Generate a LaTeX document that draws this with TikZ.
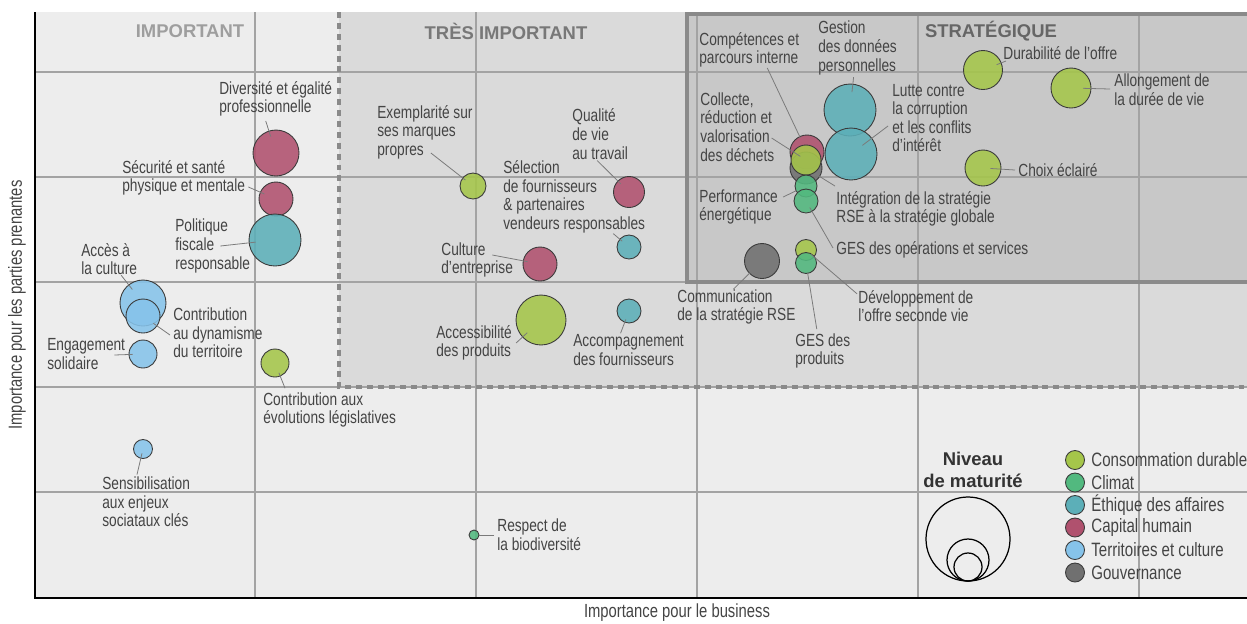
\documentclass[tikz,border=0pt]{standalone}
\usepackage{fontspec}
\setmainfont{Liberation Sans}
\newfontfamily\condfont{Liberation Sans}[FakeStretch=0.78]
\definecolor{conso}{HTML}{A5C64A}
\definecolor{climat}{HTML}{52B97F}
\definecolor{ethique}{HTML}{5CAFB8}
\definecolor{capital}{HTML}{B0516E}
\definecolor{territ}{HTML}{86C3EA}
\definecolor{gouv}{HTML}{707070}
\definecolor{bglight}{HTML}{EDEDED}
\definecolor{bgmid}{HTML}{DADADA}
\definecolor{bgdark}{HTML}{C8C8C8}
\definecolor{gridc}{HTML}{A3A3A3}
\definecolor{framec}{HTML}{8A8A8A}
\definecolor{txtgray}{HTML}{444444}
\definecolor{leadgray}{HTML}{7A7A7A}
\definecolor{bubline}{HTML}{3A3A3A}

\begin{document}
\begin{tikzpicture}[x=0.02cm,y=-0.02cm,
    bub/.style={circle,draw=bubline,line width=0.5pt,fill opacity=0.88,inner sep=0,minimum size=#1*0.04cm},
    lbl/.style={font=\condfont\fontsize{10}{10.6}\selectfont,text=txtgray,align=left,inner sep=0,anchor=west},
    legl/.style={font=\condfont\fontsize{11}{13}\selectfont,text=txtgray,inner sep=0,anchor=west},
    head/.style={font=\fontsize{10.5}{12.5}\selectfont\bfseries,inner sep=0},
    lead/.style={draw=leadgray,line width=0.45pt,shorten >=#1*0.015cm},
    gridl/.style={draw=gridc,line width=0.6pt}]
    \useasboundingbox (0,0) rectangle (1247,623);

    \fill[bglight] (35,12) rectangle (1247,598);
    \fill[bgmid] (339,12) rectangle (1247,387);
    \fill[bgdark] (687,12) rectangle (1247,282);
    \foreach \x in {255,476,697,918,1139}
        \draw[gridl] (\x,12) -- (\x,598);
    \foreach \y in {72,177,282,387,492}
        \draw[gridl] (35,\y) -- (1247,\y);
    \draw[framec,line width=1.8pt,dash pattern=on 3.4pt off 2.8pt] (339,12) -- (339,387) -- (1247,387);
    \draw[framec,line width=2.5pt] (1250,14) -- (687,14) -- (687,282) -- (1250,282);
    \draw[black,line width=1.2pt] (35,12) -- (35,598) -- (1247,598);

    \node[head,text=black!38] (imp) at (190,31) {IMPORTANT};
    \node[head,text=black!53] (tres) at (506,31) {TRÈS IMPORTANT};
    \node[head,text=black!60] (strat) at (991,31) {STRATÉGIQUE};

    \node[bub=23,fill=capital] (divers) at (276,153) {};
    \node[bub=17,fill=capital] (secu) at (276,199) {};
    \node[bub=26,fill=ethique] (fisc) at (275,240) {};
    \node[bub=23,fill=territ] (acces) at (143,303) {};
    \node[bub=17,fill=territ] (dynam) at (143,316) {};
    \node[bub=14,fill=territ] (engag) at (143,354) {};
    \node[bub=14,fill=conso] (legis) at (275,363) {};
    \node[bub=9.5,fill=territ] (sensib) at (143,449) {};
    \node[bub=13,fill=conso] (exempl) at (473,186) {};
    \node[bub=15.5,fill=capital] (qualite) at (629,192) {};
    \node[bub=12,fill=ethique] (select) at (629,247) {};
    \node[bub=17,fill=capital] (cultent) at (540,264) {};
    \node[bub=25,fill=conso] (access) at (541,320) {};
    \node[bub=12,fill=ethique] (accomp) at (629,311) {};
    \node[bub=5,fill=climat] (biodiv) at (474,535) {};
    \node[bub=17,fill=capital] (compet) at (807,152) {};
    \node[bub=16,fill=gouv] (integ) at (806,168) {};
    \node[bub=15,fill=conso] (collecte) at (806,160) {};
    \node[bub=11,fill=climat] (perf) at (806,186) {};
    \node[bub=12,fill=climat] (gesop) at (806,201) {};
    \node[bub=26,fill=ethique] (gestion) at (850,110) {};
    \node[bub=26,fill=ethique] (lutte) at (851,154) {};
    \node[bub=19.5,fill=conso] (durab) at (983,70) {};
    \node[bub=20,fill=conso] (allong) at (1071,88) {};
    \node[bub=18,fill=conso] (choix) at (983,168) {};
    \node[bub=17.5,fill=gouv] (commun) at (762,261) {};
    \node[bub=10.5,fill=conso] (devel) at (806,250) {};
    \node[bub=10.5,fill=climat] (gesprod) at (806,263) {};

    \node[lbl] (divers-l) at (219,99) {Diversité et égalité\\professionnelle};
    \node[lbl] (secu-l) at (122,178) {Sécurité et santé\\physique et mentale};
    \node[lbl] (fisc-l) at (175,246) {Politique\\fiscale\\responsable};
    \node[lbl] (acces-l) at (81,259) {Accès à\\la culture};
    \node[lbl] (dynam-l) at (173,333) {Contribution\\au dynamisme\\du territoire};
    \node[lbl] (engag-l) at (47,354) {Engagement\\solidaire};
    \node[lbl] (legis-l) at (263,410) {Contribution aux\\évolutions législatives};
    \node[lbl] (sensib-l) at (102,502) {Sensibilisation\\aux enjeux\\sociataux clés};
    \node[lbl] (exempl-l) at (377,132) {Exemplarité sur\\ses marques\\propres};
    \node[lbl] (qualite-l) at (572,134) {Qualité\\de vie\\au travail};
    \node[lbl] (select-l) at (503,197) {Sélection\\de fournisseurs\\\& partenaires\\vendeurs responsables};
    \node[lbl] (cultent-l) at (441,260) {Culture\\d’entreprise};
    \node[lbl] (access-l) at (436,343) {Accessibilité\\des produits};
    \node[lbl] (accomp-l) at (573,350) {Accompagnement\\des fournisseurs};
    \node[lbl] (biodiv-l) at (497,535) {Respect de\\la biodiversité};
    \node[lbl] (commun-l) at (677,307) {Communication\\de la stratégie RSE};
    \node[lbl] (gesprod-l) at (795,351) {GES des\\produits};
    \node[lbl] (devel-l) at (858,306) {Développement de\\l’offre seconde vie};
    \node[lbl] (gesop-l) at (836,250) {GES des opérations et services};
    \node[lbl] (integ-l) at (836,209) {Intégration de la stratégie\\RSE à la stratégie globale};
    \node[lbl] (perf-l) at (699,207) {Performance\\énergétique};
    \node[lbl] (collecte-l) at (700,127) {Collecte,\\réduction et\\valorisation\\des déchets};
    \node[lbl] (compet-l) at (699,50) {Compétences et\\parcours interne};
    \node[lbl] (gestion-l) at (818,48) {Gestion\\des données\\personnelles};
    \node[lbl] (lutte-l) at (892,118) {Lutte contre\\la corruption\\et les conflits\\d’intérêt};
    \node[lbl] (durab-l) at (1003,53) {Durabilité de l’offre};
    \node[lbl] (allong-l) at (1114,90) {Allongement de\\la durée de vie};
    \node[lbl] (choix-l) at (1018,170) {Choix éclairé};

    \draw[lead=23] ([shift={(-10,4)}]divers-l.south) -- (divers.center);
    \draw[lead=17] ([shift={(3,9)}]secu-l.east) -- (secu.center);
    \draw[lead=26] ([shift={(-30,0)}]fisc-l.east) -- (fisc.center);
    \draw[lead=23] ([shift={(12,0)}]acces-l.south) -- (acces.center);
    \draw[lead=17] ([shift={(-3,2)}]dynam-l.west) -- (dynam.center);
    \draw[lead=14] ([shift={(-11,1)}]engag-l.east) -- (engag.center);
    \draw[lead=14] ([shift={(22,-4)}]legis-l.north west) -- (legis.center);
    \draw[lead=6] ([shift={(35,-2)}]sensib-l.north west) -- (sensib.center);
    \draw[lead=13] ([shift={(-42,21)}]exempl-l.east) -- (exempl.center);
    \draw[lead=15.5] ([shift={(-3,1)}]qualite-l.south) -- (qualite.center);
    \draw[lead=12] ([shift={(39,0)}]select-l.south) -- (select.center);
    \draw[lead=17] ([shift={(-21,-5)}]cultent-l.east) -- (cultent.center);
    \draw[lead=25] ([shift={(4,0)}]access-l.east) -- (access.center);
    \draw[lead=12] ([shift={(-8,-1)}]accomp-l.north) -- (accomp.center);
    \draw[lead=7] ([shift={(-3,0)}]biodiv-l.west) -- (biodiv.center);
    \draw[lead=17.5] ([shift={(-3,0)}]commun-l.north) -- (commun.center);
    \draw[lead=13] ([shift={(-6,-4)}]gesprod-l.north) -- (gesprod.center);
    \draw[lead=9] ([shift={(-1,4)}]devel-l.north west) -- (devel.center);
    \draw[lead=10] ([shift={(-3,-2)}]gesop-l.west) -- (gesop.center);
    \draw[lead=20] ([shift={(-1,-5)}]integ-l.north west) -- (integ.center);
    \draw[lead=14] ([shift={(5,-10)}]perf-l.east) -- (perf.center);
    \draw[lead=9] ([shift={(-3,11)}]collecte-l.east) -- (collecte.center);
    \draw[lead=21] ([shift={(18,0)}]compet-l.south) -- (compet.center);
    \draw[lead=24] ([shift={(-4,2)}]gestion-l.south) -- (gestion.center);
    \draw[lead=19] ([shift={(-4,8)}]lutte-l.west) -- (lutte.center);
    \draw[lead=19.5] ([shift={(3,8)}]durab-l.west) -- (durab.center);
    \draw[lead=16] ([shift={(-4,-1)}]allong-l.west) -- (allong.center);
    \draw[lead=10] ([shift={(-3,0)}]choix-l.west) -- (choix.center);

    \node[head,text=black!80,align=center] (niveau) at (973,470) {Niveau\\de maturité};
    \draw[black,line width=0.7pt] (968,539) circle [radius=42];
    \draw[black,line width=0.7pt] (968,560) circle [radius=21];
    \draw[black,line width=0.7pt] (968,567) circle [radius=14];

    \foreach \c/\t [count=\i] in {conso/Consommation durable,climat/Climat,ethique/Éthique des affaires,capital/Capital humain,territ/Territoires et culture,gouv/Gouvernance} {
        \node[bub=9.5,fill=\c,fill opacity=1] (leg\i) at (1075,{437.5+22.5*\i}) {};
        \node[legl] (leg\i-l) at (1091,{437.5+22.5*\i}) {\t};
    }

    \node[lbl,anchor=center,font=\condfont\fontsize{10.8}{12}\selectfont] (xlab) at (677,613) {Importance pour le business};
    \node[lbl,anchor=center,rotate=90,font=\condfont\fontsize{10.8}{12}\selectfont] (ylab) at (17,305) {Importance pour les parties prenantes};
\end{tikzpicture}
\end{document}
